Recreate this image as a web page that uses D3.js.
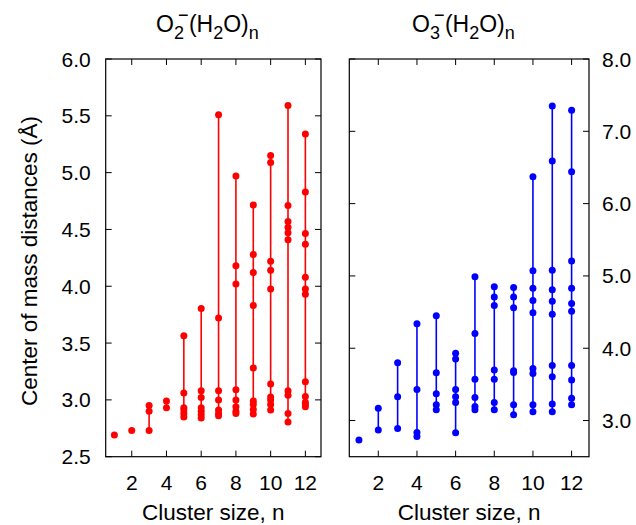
<!DOCTYPE html>
<html>
<head>
<meta charset="utf-8">
<script src="https://cdn.jsdelivr.net/npm/d3@7"></script>
<style>
  body { margin: 0; background: #fff; }
  text { font-family: "Liberation Sans", Arial, sans-serif; fill: #000; }
</style>
</head>
<body>
<div id="chart"></div>
<script>
// cluster sizes n
const clusterSizes = [1,2,3,4,5,6,7,8,9,10,11,12];

// O2-(H2O)n centre of mass distances (Å), one list per n
const o2Distances = [
  [2.69],
  [2.73],
  [2.73, 2.90, 2.95],
  [2.93, 2.99],
  [2.85, 2.88, 2.91, 2.93, 3.06, 3.565],
  [2.84, 2.87, 2.90, 2.93, 3.02, 3.08, 3.805],
  [2.86, 2.88, 2.91, 3.00, 3.08, 3.72, 5.51],
  [2.88, 2.90, 2.94, 3.00, 3.09, 4.02, 4.18, 4.97],
  [2.875, 2.915, 2.96, 2.99, 3.28, 3.83, 4.12, 4.28, 4.715],
  [2.91, 2.96, 3.00, 3.025, 3.14, 3.975, 4.14, 4.22, 5.09, 5.15],
  [2.805, 2.88, 3.04, 3.08, 4.41, 4.47, 4.52, 4.57, 4.71, 5.59],
  [2.94, 2.96, 2.98, 3.03, 3.16, 3.93, 3.975, 4.08, 4.37, 4.465, 4.83, 5.34]
];

// O3-(H2O)n centre of mass distances (Å)
const o3Distances = [
  [2.73],
  [2.87, 3.17],
  [2.89, 3.33, 3.80],
  [2.78, 2.835, 3.43, 4.34],
  [3.15, 3.22, 3.37, 3.66, 4.45],
  [2.83, 3.25, 3.33, 3.43, 3.85, 3.93],
  [3.15, 3.195, 3.32, 3.57, 4.205, 4.99],
  [3.15, 3.25, 3.57, 3.70, 4.59, 4.71, 4.85],
  [3.08, 3.22, 3.665, 3.69, 4.56, 4.71, 4.84],
  [3.12, 3.22, 3.65, 3.72, 4.49, 4.66, 4.83, 5.07, 6.37],
  [3.12, 3.23, 3.605, 3.76, 4.47, 4.65, 4.81, 5.08, 6.59, 7.35],
  [3.22, 3.31, 3.56, 3.76, 4.51, 4.62, 4.83, 5.205, 6.44, 7.29]
];

const xTicks = [2,4,6,8,10,12];
const yTicksLeft = [2.5,3.0,3.5,4.0,4.5,5.0,5.5,6.0];
const yTicksRight = [3,4,5,6,7,8];

const W = 636, H = 525;
const svg = d3.select("#chart").append("svg").attr("width", W).attr("height", H);

const yTop = 59, yBottom = 456.7;
const tickLen = 6;
const fsTick = 21, fsLabel = 22.5, fsTitle = 23, fsSub = 18;

function panel(opts) {
  const x = d3.scaleLinear().domain([0.5, 12.9]).range([opts.x0, opts.x1]);
  const y = d3.scaleLinear().domain(opts.ydom).range([yBottom, yTop]);
  const g = svg.append("g");

  // ticks (inward, mirrored)
  xTicks.forEach(t => {
    g.append("line").attr("x1", x(t)).attr("x2", x(t)).attr("y1", yBottom).attr("y2", yBottom - tickLen).attr("stroke", "#000");
    g.append("line").attr("x1", x(t)).attr("x2", x(t)).attr("y1", yTop).attr("y2", yTop + tickLen).attr("stroke", "#000");
    g.append("text").attr("x", x(t)).attr("y", 490).attr("text-anchor", "middle")
      .attr("font-size", fsTick).text(t);
  });
  opts.yticks.forEach(t => {
    g.append("line").attr("x1", opts.x0).attr("x2", opts.x0 + tickLen).attr("y1", y(t)).attr("y2", y(t)).attr("stroke", "#000");
    g.append("line").attr("x1", opts.x1).attr("x2", opts.x1 - tickLen).attr("y1", y(t)).attr("y2", y(t)).attr("stroke", "#000");
    if (opts.side == "left") {
      g.append("text").attr("x", opts.x0 - 15).attr("y", y(t) + 7.5).attr("text-anchor", "end")
        .attr("font-size", fsTick).text(d3.format(".1f")(t));
    } else {
      g.append("text").attr("x", opts.x1 + 13).attr("y", y(t) + 7.5).attr("text-anchor", "start")
        .attr("font-size", fsTick).text(d3.format(".1f")(t));
    }
  });

  // data: vertical range line + dots
  clusterSizes.forEach((n, i) => {
    const vals = opts.data[i];
    const ext = d3.extent(vals);
    if (vals.length > 1) {
      g.append("line").attr("x1", x(n)).attr("x2", x(n)).attr("y1", y(ext[0])).attr("y2", y(ext[1]))
        .attr("stroke", opts.color).attr("stroke-width", 1.6);
    }
    g.selectAll(null).data(vals).enter().append("circle")
      .attr("cx", x(n)).attr("cy", d => y(d)).attr("r", 3.5).attr("fill", opts.color);
  });

  // frame
  g.append("rect").attr("x", opts.x0).attr("y", yTop).attr("width", opts.x1 - opts.x0).attr("height", yBottom - yTop)
    .attr("fill", "none").attr("stroke", "#000").attr("stroke-width", 1.2);

  g.append("text").attr("x", (opts.x0 + opts.x1) / 2).attr("y", 520).attr("text-anchor", "middle")
    .attr("font-size", fsLabel).text("Cluster size, n");

  // title: O_sub^- (H2O)n, sub- and superscript stacked
  const t = g.append("text").attr("x", opts.titleX).attr("y", 32).attr("font-size", fsTitle);
  t.append("tspan").text("O");
  t.append("tspan").attr("font-size", fsSub).attr("dy", 6.5).text(opts.sub);
  t.append("tspan").attr("font-size", fsSub).attr("dx", -6).attr("dy", -18).text("\u2212");
  t.append("tspan").attr("dy", 11.5).attr("dx", 0.5).text("(H");
  t.append("tspan").attr("font-size", fsSub).attr("dy", 6.5).text("2");
  t.append("tspan").attr("dy", -6.5).text("O)");
  t.append("tspan").attr("font-size", fsSub).attr("dy", 6.5).text("n");
}

panel({ x0: 105.7, x1: 321, ydom: [2.5, 6.0], yticks: yTicksLeft, side: "left",
        data: o2Distances, color: "#ff0000", sub: "2", titleX: 156 });
panel({ x0: 349.3, x1: 589, ydom: [2.5, 8.0], yticks: yTicksRight, side: "right",
        data: o3Distances, color: "#0000ff", sub: "3", titleX: 412 });

svg.append("text").attr("transform", "translate(36.5,261) rotate(-90)").attr("text-anchor", "middle")
  .attr("font-size", fsLabel).text("Center of mass distances (Å)");
</script>
</body>
</html>
